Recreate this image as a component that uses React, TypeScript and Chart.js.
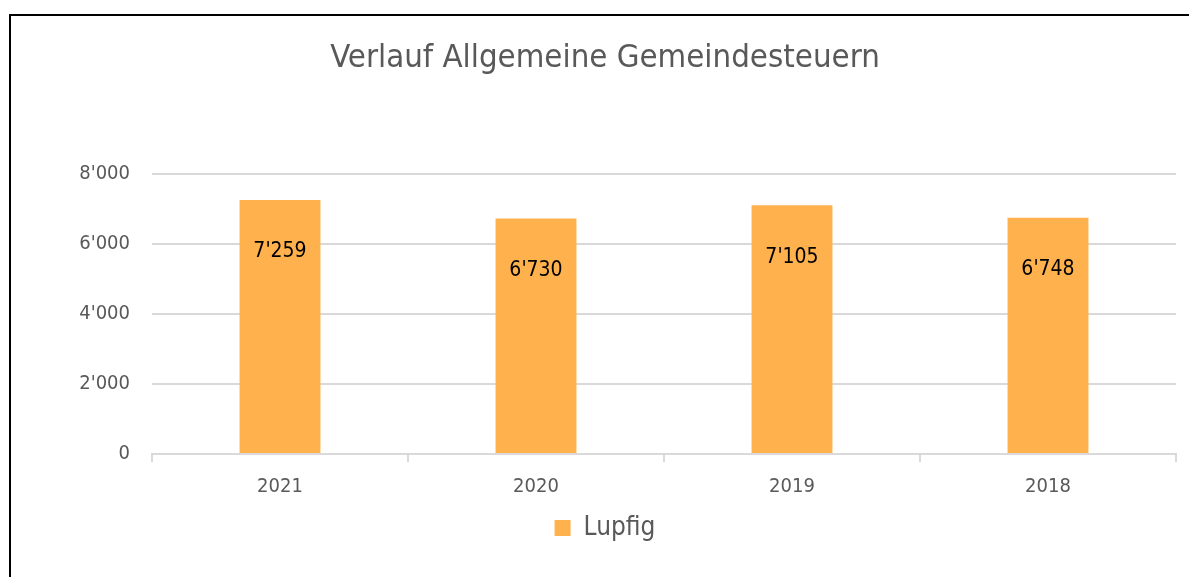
import React, { useEffect, useRef } from "react";
import { Chart, registerables } from "chart.js";

Chart.register(...registerables);

const categories: string[] = ["2021", "2020", "2019", "2018"];
const seriesName = "Lupfig";
const seriesValues: number[] = [7259, 6730, 7105, 6748];
const yTicks: number[] = [0, 2000, 4000, 6000, 8000];

const FONT = '"Liberation Sans Narrow", "DejaVu Sans Condensed", "Noto Sans", sans-serif';
const GREY = "#595959";
const GRID = "#D9D9D9";
const BAR = "#FFB14E";

function fmt(v: number): string {
  return String(Math.round(v)).replace(/\B(?=(\d{3})+(?!\d))/g, "'");
}

const valueLabels = {
  id: "valueLabels",
  afterDatasetsDraw(chart: any) {
    const ctx = chart.ctx;
    const meta = chart.getDatasetMeta(0);
    const data = chart.data.datasets[0].data as number[];
    ctx.save();
    ctx.font = `21px ${FONT}`;
    ctx.fillStyle = "#000000";
    ctx.textAlign = "center";
    ctx.textBaseline = "middle";
    meta.data.forEach((el: any, i: number) => {
      ctx.fillText(fmt(data[i]), el.x, el.y + 52);
    });
    ctx.restore();
  },
};

export default function App() {
  const ref = useRef<HTMLCanvasElement | null>(null);
  useEffect(() => {
    if (!ref.current) return;
    const chart = new Chart(ref.current, {
      type: "bar",
      data: {
        labels: categories,
        datasets: [
          {
            label: seriesName,
            data: seriesValues,
            backgroundColor: BAR,
            borderWidth: 0,
            barPercentage: 0.316,
            categoryPercentage: 1,
          },
        ],
      },
      options: {
        animation: false,
        responsive: false,
        maintainAspectRatio: false,
        layout: { padding: { left: 34, right: 13, top: 0, bottom: 26 } },
        plugins: {
          title: {
            display: true,
            text: "Verlauf Allgemeine Gemeindesteuern",
            color: GREY,
            font: { family: FONT, size: 32.7, weight: "normal" },
            padding: { top: 38.4, bottom: 96.4 },
          },
          legend: {
            display: true,
            position: "bottom",
            labels: {
              color: GREY,
              font: { family: FONT, size: 26 },
              boxWidth: 16,
              boxHeight: 16,
              padding: 21,
            },
          },
          tooltip: { enabled: false },
        },
        scales: {
          x: {
            offset: true,
            grid: {
              offset: true,
              drawOnChartArea: false,
              drawTicks: true,
              tickLength: 8,
              color: GRID,
              lineWidth: 2,
            },
            border: { display: true, color: GRID, width: 2 },
            ticks: {
              color: GREY,
              font: { family: FONT, size: 20 },
              padding: 13,
            },
            afterFit(scale: any) {
              scale.height = 40;
            },
          },
          y: {
            min: 0,
            max: 8000,
            afterBuildTicks(scale: any) {
              scale.ticks = yTicks.map((v) => ({ value: v }));
            },
            grid: { color: GRID, lineWidth: 2, drawTicks: false },
            border: { display: false },
            ticks: {
              color: GREY,
              font: { family: FONT, size: 20 },
              padding: 22,
              callback: (v: any) => fmt(Number(v)),
            },
            afterFit(scale: any) {
              scale.width = 118;
            },
          },
        },
      },
      plugins: [valueLabels],
    });
    return () => chart.destroy();
  }, []);

  return (
    <div
      style={{
        position: "fixed",
        left: 0,
        top: 0,
        width: 1189,
        height: 577,
        overflow: "hidden",
        background: "#ffffff",
      }}
    >
      <div
        style={{
          position: "absolute",
          left: 9,
          top: 14,
          width: 1400,
          height: 800,
          border: "2px solid #000000",
          boxSizing: "border-box",
        }}
      />
      <canvas
        ref={ref}
        width={1189}
        height={577}
        style={{ position: "absolute", left: 0, top: 0, width: 1189, height: 577 }}
      />
    </div>
  );
}
